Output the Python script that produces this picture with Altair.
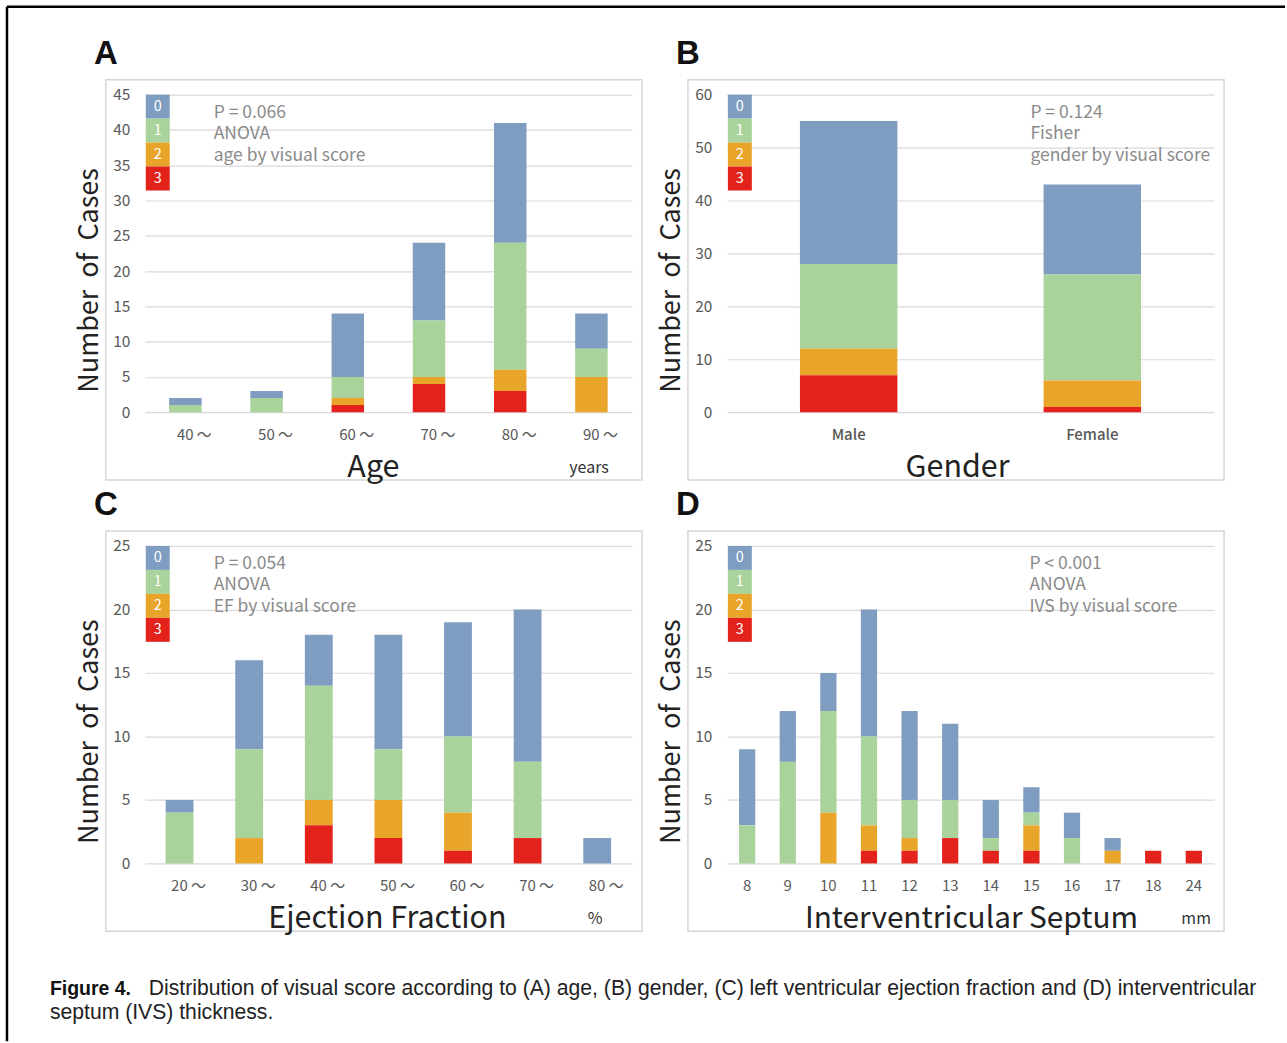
import altair as alt
import pandas as pd

# ---------------- data ----------------
SCORES = [0, 1, 2, 3]
SCORE_LABELS = ["0", "1", "2", "3"]
COLORS = ["#7F9DC1", "#A9D39A", "#E9A52A", "#E3221C"]

AGE_CATS = ["40 〜", "50 〜", "60 〜", "70 〜", "80 〜", "90 〜"]
AGE_S0 = [1, 1, 9, 11, 17, 5]
AGE_S1 = [1, 2, 3, 8, 18, 4]
AGE_S2 = [0, 0, 1, 1, 3, 5]
AGE_S3 = [0, 0, 1, 4, 3, 0]

GENDER_CATS = ["Male", "Female"]
GENDER_S0 = [27, 17]
GENDER_S1 = [16, 20]
GENDER_S2 = [5, 5]
GENDER_S3 = [7, 1]

EF_CATS = ["20 〜", "30 〜", "40 〜", "50 〜", "60 〜", "70 〜", "80 〜"]
EF_S0 = [1, 7, 4, 9, 9, 12, 2]
EF_S1 = [4, 7, 9, 4, 6, 6, 0]
EF_S2 = [0, 2, 2, 3, 3, 0, 0]
EF_S3 = [0, 0, 3, 2, 1, 2, 0]

IVS_CATS = ["8", "9", "10", "11", "12", "13", "14", "15", "16", "17", "18", "24"]
IVS_S0 = [6, 4, 3, 10, 7, 6, 3, 2, 2, 1, 0, 0]
IVS_S1 = [3, 8, 8, 7, 3, 3, 1, 1, 2, 0, 0, 0]
IVS_S2 = [0, 0, 4, 2, 1, 0, 0, 2, 0, 1, 0, 0]
IVS_S3 = [0, 0, 0, 1, 1, 2, 1, 1, 0, 0, 1, 1]

ANNOT_A = ["P = 0.066", "ANOVA", "age by visual score"]
ANNOT_B = ["P = 0.124", "Fisher", "gender by visual score"]
ANNOT_C = ["P = 0.054", "ANOVA", "EF by visual score"]
ANNOT_D = ["P < 0.001", "ANOVA", "IVS by visual score"]

Y_TITLE = "Number\u00a0 of\u00a0 Cases"

CAPTION_HEAD = "Figure 4."
CAPTION_L1 = ("Distribution of visual score according to (A) age, (B) gender, "
              "(C) left ventricular ejection fraction and (D) interventricular")
CAPTION_L2 = "septum (IVS) thickness."

# ---------------- style ----------------
FONT = "Noto Sans CJK JP"
W, H = 488, 318
GRAY_TXT = "#595959"
ONE = pd.DataFrame({"k": [0]})


def txt(text, x, y, size, color="#222222", weight="normal", align="center",
        baseline="middle", angle=0, font=FONT, line_height=None):
    kw = dict(text=text, fontSize=size, color=color, fontWeight=weight,
              align=align, baseline=baseline, font=font)
    if angle:
        kw["angle"] = angle
    if line_height:
        kw["lineHeight"] = line_height
    return alt.Chart(ONE).mark_text(**kw).encode(x=alt.value(x), y=alt.value(y))


def panel(cats, s0, s1, s2, s3, ymax, ystep, letter, xtitle, xtitle_x, xtitle_size,
          unit, unit_x, annot, annot_x, label_offset=0, bold_labels=False, extra=()):
    rows = []
    for i, c in enumerate(cats):
        for sc, vals in zip(SCORES, [s0, s1, s2, s3]):
            if vals[i] > 0:
                rows.append({"cat": c, "score": sc, "n": vals[i]})
    df = pd.DataFrame(rows)

    color = alt.Color("score:N", scale=alt.Scale(domain=SCORES, range=COLORS), legend=None)

    bars = alt.Chart(df).mark_bar().encode(
        x=alt.X("cat:N", sort=cats,
                scale=alt.Scale(paddingInner=0.6, paddingOuter=0.3),
                axis=alt.Axis(title=None, labelAngle=0, domain=False, ticks=False,
                              grid=False, labelFont=FONT, labelFontSize=15,
                              labelColor=GRAY_TXT, labelPadding=15,
                              labelOffset=label_offset,
                              labelFontWeight=500 if bold_labels else "normal")),
        y=alt.Y("n:Q", stack="zero",
                scale=alt.Scale(domain=[0, ymax], nice=False),
                axis=alt.Axis(title=None, values=list(range(0, ymax + 1, ystep)),
                              domain=False, ticks=False, grid=True,
                              gridColor="#d9d9d9", gridWidth=1.2,
                              labelFont=FONT, labelFontSize=15.5,
                              labelColor=GRAY_TXT, labelPadding=15)),
        color=color,
        order=alt.Order("score:Q", sort="descending"),
    )

    leg_df = pd.DataFrame({"score": SCORES, "label": SCORE_LABELS})
    leg_y = alt.Y("score:O", scale=alt.Scale(range=[0, 96], paddingInner=0, paddingOuter=0),
                  axis=None)
    leg_rect = alt.Chart(leg_df).mark_rect().encode(
        x=alt.value(1), x2=alt.value(25), y=leg_y, color=color)
    leg_text = alt.Chart(leg_df).mark_text(color="white", fontSize=14.5, font=FONT).encode(
        x=alt.value(13), y=leg_y, text="label:N")
    legend = alt.layer(leg_rect, leg_text)

    box = alt.Chart(ONE).mark_rect(fillOpacity=0, stroke="#d6d6d6", strokeWidth=1.5).encode(
        x=alt.value(-39), x2=alt.value(498), y=alt.value(-15), y2=alt.value(386))

    layers = [box, bars, legend,
              txt(annot, annot_x, 18, 17.5, color="#8a8a8a", align="left", line_height=21.5),
              txt(letter, -39, -41, 33, color="#111111", weight="bold", font="Liberation Sans"),
              txt(Y_TITLE, -55, 186, 27, color="#222222", angle=270),
              txt(xtitle, xtitle_x, 374, xtitle_size, color="#222222"),
              txt(unit, unit_x, 374, 16, color="#333333")]
    layers += list(extra)
    return alt.layer(*layers).resolve_scale(y="independent").properties(width=W, height=H)


# outer frame (top and left lines) drawn from panel A
frame_top = alt.Chart(ONE).mark_rule(color="black", strokeWidth=2.5).encode(
    x=alt.value(-138), x2=alt.value(1142), y=alt.value(-88))
frame_left = alt.Chart(ONE).mark_rule(color="black", strokeWidth=2.5).encode(
    x=alt.value(-138), y=alt.value(-88), y2=alt.value(948))

CAP_FONT = "Liberation Sans Narrow, Arial Narrow, Liberation Sans"
cap_head = txt(CAPTION_HEAD, -95, 444, 19.5, color="#111111", weight="bold", align="left",
               font=CAP_FONT)
cap_l1 = txt(CAPTION_L1, 4, 444, 21.2, color="#222222", align="left", font=CAP_FONT)
cap_l2 = txt(CAPTION_L2, -95, 468, 21.2, color="#222222", align="left", font=CAP_FONT)

pA = panel(AGE_CATS, AGE_S0, AGE_S1, AGE_S2, AGE_S3, 45, 5, "A", "Age", 229, 30.5,
           "years", 445, ANNOT_A, 69, label_offset=9, extra=(frame_top, frame_left))
pB = panel(GENDER_CATS, GENDER_S0, GENDER_S1, GENDER_S2, GENDER_S3, 60, 10, "B", "Gender", 231,
           30.5, "", 450, ANNOT_B, 304, bold_labels=True)
pC = panel(EF_CATS, EF_S0, EF_S1, EF_S2, EF_S3, 25, 5, "C", "Ejection Fraction", 243, 30.5,
           "%", 451, ANNOT_C, 69, label_offset=9, extra=(cap_head, cap_l1, cap_l2))
pD = panel(IVS_CATS, IVS_S0, IVS_S1, IVS_S2, IVS_S3, 25, 5, "D", "Interventricular Septum", 245,
           29.8, "mm", 470, ANNOT_D, 303)

chart = alt.concat(pA, pB, pC, pD, columns=2,
                   spacing={"row": 134, "column": 95}, bounds="flush").properties(
    padding={"left": 5, "top": 4, "right": 0, "bottom": 0},
    background="white",
).configure_view(stroke="transparent")

chart.save("out.html", embed_options={"renderer": "svg", "actions": False})
